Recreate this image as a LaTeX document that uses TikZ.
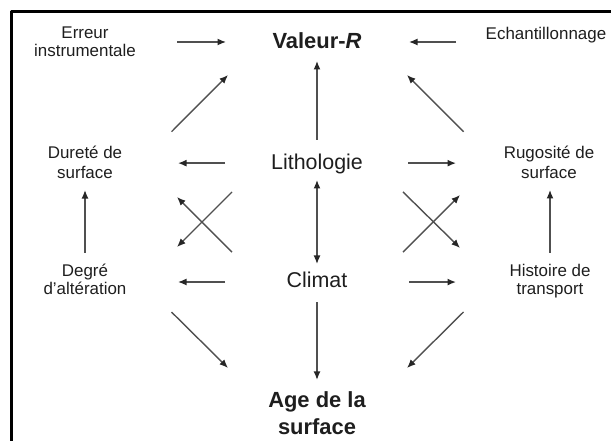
\documentclass[tikz,border=0pt]{standalone}
\usepackage{fontspec}
\setmainfont{Liberation Sans}
\usepackage{tikz}
\usetikzlibrary{arrows.meta,calc}
\definecolor{linkgray}{RGB}{80,80,80}
\definecolor{labelgray}{RGB}{30,30,30}

\begin{document}
\begin{tikzpicture}[>={Latex[length=8.5bp,width=7bp,color=black!85]},line join=bevel,
  small/.style={align=center,text=labelgray,font=\fontsize{17}{18}\selectfont},
  big/.style={align=center,text=labelgray,font=\fontsize{21.5}{27}\selectfont},
  bigbold/.style={align=center,text=labelgray,font=\bfseries\fontsize{22}{27}\selectfont},
  link/.style={->,draw=linkgray,line width=1.4bp}]
%%
\useasboundingbox (0bp,0bp) rectangle (611bp,441bp);
\draw [line width=2.5bp] (11.7bp,0bp) -- (11.7bp,429.3bp) -- (611bp,429.3bp);
%
\node (erreur) at (85bp,399.6bp) [small] {Erreur\\instrumentale};
  \node (valeur) at (317bp,400.4bp) [bigbold] {Valeur-\textit{R}};
  \node (echant) at (546bp,406.2bp) [small] {Echantillonnage};
  \node (durete) at (85bp,279.1bp) [small] {Duret\'e de\\[2bp]surface};
  \node (litho) at (317bp,276.6bp) [big] {Lithologie};
  \node (rugos) at (549bp,279.1bp) [small] {Rugosit\'e de\\[2bp]surface};
  \node (degre) at (85bp,161.6bp) [small] {Degr\'e\\d'alt\'eration};
  \node (climat) at (317bp,160.8bp) [big] {Climat};
  \node (histoire) at (550bp,159.5bp) [small] {Histoire de\\transport};
  \node (age) at (317bp,27.5bp) [bigbold] {Age de la\\surface};
%
  \draw [link] ($(erreur)!.5!(valeur)+(-24bp,-1bp)$) -- ($(erreur)!.5!(valeur)+(25bp,-1bp)$);
  \draw [link] ($(echant)!.5!(valeur)+(24.5bp,-4.3bp)$) -- ($(echant)!.5!(valeur)+(-22.5bp,-4.3bp)$);
  \draw [link] ($(durete)!.5!(valeur)+(-29.5bp,-30.5bp)$) -- ($(durete)!.5!(valeur)+(27bp,26.2bp)$);
  \draw [link] ($(litho)!.5!(valeur)+(0bp,-37.5bp)$) -- ($(litho)!.5!(valeur)+(0bp,41.5bp)$);
  \draw [link] ($(rugos)!.5!(valeur)+(30.7bp,-30.5bp)$) -- ($(rugos)!.5!(valeur)+(-26bp,26.2bp)$);
  \draw [link] ($(litho)!.5!(durete)+(24bp,0bp)$) -- ($(litho)!.5!(durete)+(-23bp,0bp)$);
  \draw [link] ($(litho)!.5!(rugos)+(-25bp,0bp)$) -- ($(litho)!.5!(rugos)+(23bp,0bp)$);
  \draw [link] ($(litho)!.5!(degre)+(31bp,29.9bp)$) -- ($(litho)!.5!(degre)+(-24bp,-25.1bp)$);
  \draw [link] ($(climat)!.5!(durete)+(31bp,-31bp)$) -- ($(climat)!.5!(durete)+(-24bp,24bp)$);
  \draw [link,<->] ($(litho)!.5!(climat)+(0bp,42.3bp)$) -- ($(litho)!.5!(climat)+(0bp,-41.7bp)$);
  \draw [link] ($(litho)!.5!(histoire)+(-30.5bp,31bp)$) -- ($(litho)!.5!(histoire)+(26.5bp,-25bp)$);
  \draw [link] ($(climat)!.5!(rugos)+(-30bp,-31bp)$) -- ($(climat)!.5!(rugos)+(27bp,26bp)$);
  \draw [link] ($(degre)!.5!(durete)+(0bp,-32.3bp)$) -- ($(degre)!.5!(durete)+(0bp,30.6bp)$);
  \draw [link] ($(histoire)!.5!(rugos)+(0.5bp,-31.3bp)$) -- ($(histoire)!.5!(rugos)+(0.5bp,31.7bp)$);
  \draw [link] ($(climat)!.5!(degre)+(24bp,-2.2bp)$) -- ($(climat)!.5!(degre)+(-23bp,-2.2bp)$);
  \draw [link] ($(climat)!.5!(histoire)+(-24.5bp,-1.2bp)$) -- ($(climat)!.5!(histoire)+(22.5bp,-1.2bp)$);
  \draw [link] ($(degre)!.5!(age)+(-29.5bp,34.4bp)$) -- ($(degre)!.5!(age)+(27bp,-21.5bp)$);
  \draw [link] ($(climat)!.5!(age)+(0bp,44.8bp)$) -- ($(climat)!.5!(age)+(0bp,-33.1bp)$);
  \draw [link] ($(histoire)!.5!(age)+(30bp,35.5bp)$) -- ($(histoire)!.5!(age)+(-26.5bp,-20.5bp)$);
%
\end{tikzpicture}
\end{document}
